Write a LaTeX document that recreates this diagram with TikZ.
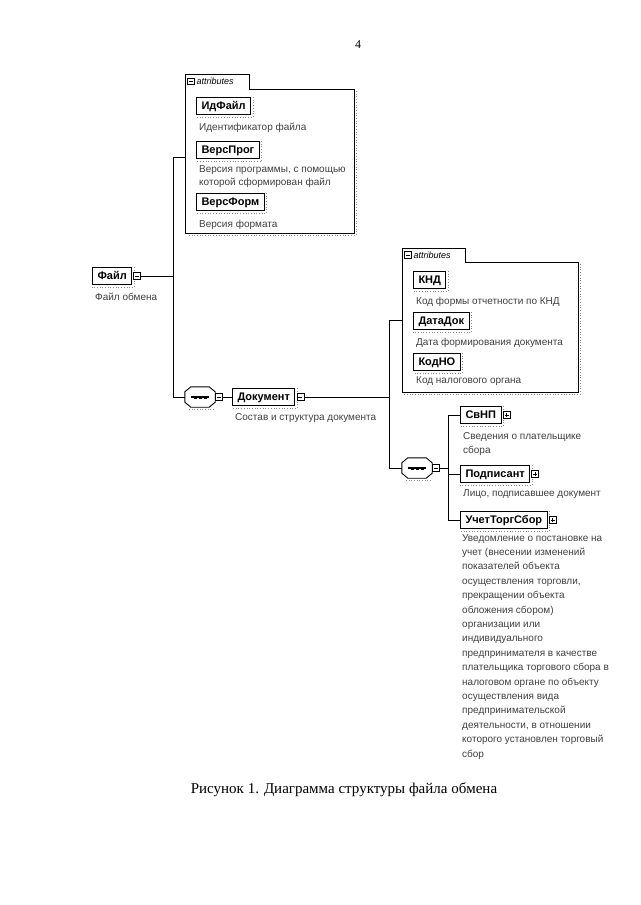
\documentclass[tikz,border=0pt]{standalone}
\usepackage{fontspec}
\setmainfont{Liberation Serif}
\newfontfamily\diafont{Liberation Sans}
\tikzset{
  conn/.style={line width=0.8pt, black},
  el/.style={draw, line width=1pt, font=\diafont\bfseries\fontsize{11}{12}\selectfont,
    inner xsep=5pt, inner ysep=0pt, text height=8.5pt, text depth=2.5pt, minimum height=17pt, anchor=west, fill=white},
  desc/.style={font=\diafont\fontsize{10}{11}\selectfont, text=black!75, anchor=west, inner sep=0pt},
  iconminus/.style={draw, line width=0.6pt, minimum size=7pt, inner sep=0pt, fill=white,
    path picture={\draw[line width=0.6pt] ([xshift=1.5pt]path picture bounding box.west) -- ([xshift=-1.5pt]path picture bounding box.east);}},
  iconplus/.style={iconminus,
    path picture={\draw[line width=0.6pt] ([xshift=1.5pt]path picture bounding box.west) -- ([xshift=-1.5pt]path picture bounding box.east);
      \draw[line width=0.6pt] ([yshift=1.5pt]path picture bounding box.south) -- ([yshift=-1.5pt]path picture bounding box.north);}},
  seq/.style={minimum width=30pt, minimum height=20pt, inner sep=0pt},
  attbox/.style={draw, line width=0.8pt},
  shadowline/.style={black!45, dotted, line width=0.7pt},
  tabtext/.style={font=\diafont\itshape\fontsize{9}{10}\selectfont, anchor=west, inner sep=0pt},
}
\newcommand\elshadow[1]{\draw[shadowline] ([xshift=2pt]#1.north east) -- ([xshift=2pt,yshift=-2pt]#1.south east) -- ([yshift=-2pt]#1.south west);}
\newcommand\seqshape[1]{%
  \draw[line width=0.9pt, fill=white] ([xshift=6pt]#1.north west) -- ([xshift=-6pt]#1.north east)
    -- ([yshift=-5pt]#1.north east) -- ([yshift=5pt]#1.south east) -- ([xshift=-6pt]#1.south east)
    -- ([xshift=6pt]#1.south west) -- ([yshift=5pt]#1.south west) -- ([yshift=-5pt]#1.north west) -- cycle;
  \draw[shadowline] ([xshift=4pt,yshift=-2pt]#1.south west) -- ([xshift=-2pt,yshift=-2pt]#1.south east);
  \draw[line width=1.2pt] ([xshift=-9pt]#1.center) -- ([xshift=9pt]#1.center);
  \foreach \dx in {-5,0,5}{\fill ([xshift=\dx pt]#1.center) +(-1.5pt,-1.5pt) rectangle +(1.5pt,1.5pt);}}
\begin{document}
\begin{tikzpicture}[x=1pt,y=-1pt]
\useasboundingbox[fill=white] (0,0) rectangle (640,905);

% page number
\node[font=\fontsize{12}{14}\selectfont] (pnum) at (358,45) {4};

% ---------- attributes box 1 ----------
\draw[attbox] (185,233) -- (185,74) -- (249,74) -- (249,89) -- (354,89) -- (354,233) -- cycle;
\draw[shadowline] (356,91) -- (356,235) -- (187,235);
\node[iconminus, minimum size=6.5pt] (tab1I) at (191,81.5) {};
\node[tabtext] (tab1) at (196.5,81.5) {attributes};
\coordinate (att1W) at (185,157);

\node[el] (idf) at (196,106) {ИдФайл};
\elshadow{idf}
\node[desc] (idfD) at (199,128) {Идентификатор файла};
\node[el] (vprog) at (196,150) {ВерсПрог};
\elshadow{vprog}
\node[desc] (vprogD1) at (199,170) {Версия программы, с помощью};
\node[desc] (vprogD2) at (199,183) {которой сформирован файл};
\node[el] (vform) at (196,202) {ВерсФорм};
\elshadow{vform}
\node[desc] (vformD) at (199,225) {Версия формата};

% ---------- root element ----------
\node[el] (fayl) at (92,276) {Файл};
\elshadow{fayl}
\node[iconminus] (faylI) at ([xshift=5pt]fayl.east) {};
\node[desc] (faylD) at (95,297) {Файл обмена};

% spine 1
\coordinate (s1top) at (173,157);
\coordinate (s1bot) at (173,397);
\draw[conn] (att1W) -- (s1top) -- (s1bot);
\draw[conn] (faylI.east) -- (faylI.east -| s1top);

% sequence 1
\node[seq] (seq1) at (200,397) {};
\seqshape{seq1}
\node[iconminus] (seq1I) at (219,397) {};
\draw[conn] (s1bot) -- (seq1.west);

% Документ
\node[el] (dok) at (232,397) {Документ};
\elshadow{dok}
\node[iconminus] (dokI) at ([xshift=5pt]dok.east) {};
\node[desc] (dokD) at (235,418) {Состав и структура документа};
\draw[conn] (seq1I.east) -- (dok.west);

% ---------- attributes box 2 ----------
\draw[attbox] (402,392) -- (402,248) -- (465,248) -- (465,262) -- (578,262) -- (578,392) -- cycle;
\draw[shadowline] (580,264) -- (580,394) -- (404,394);
\node[iconminus, minimum size=6.5pt] (tab2I) at (408,255) {};
\node[tabtext] (tab2) at (413.5,255) {attributes};
\coordinate (att2W) at (402,320);

\node[el] (knd) at (413,280) {КНД};
\elshadow{knd}
\node[desc] (kndD) at (416,302) {Код формы отчетности по КНД};
\node[el] (datadok) at (413,321) {ДатаДок};
\elshadow{datadok}
\node[desc] (datadokD) at (416,343) {Дата формирования документа};
\node[el] (kodno) at (413,362) {КодНО};
\elshadow{kodno}
\node[desc] (kodnoD) at (416,381) {Код налогового органа};

% spine 2
\coordinate (s2top) at (389,320);
\coordinate (s2bot) at (389,468);
\draw[conn] (dokI.east) -- (dokI.east -| s2top);
\draw[conn] (att2W) -- (s2top) -- (s2bot);

% sequence 2
\node[seq] (seq2) at (417,468) {};
\seqshape{seq2}
\node[iconminus] (seq2I) at (436,468) {};
\draw[conn] (s2bot) -- (seq2.west);

% spine 3
\coordinate (s3top) at (448,415);
\coordinate (s3bot) at (448,520);

\node[el] (svnp) at (460,415) {СвНП};
\elshadow{svnp}
\node[iconplus] (svnpI) at ([xshift=5pt]svnp.east) {};
\node[desc] (svnpD1) at (463,437) {Сведения о плательщике};
\node[desc] (svnpD2) at (463,451) {сбора};

\node[el] (podp) at (460,474) {Подписант};
\elshadow{podp}
\node[iconplus] (podpI) at ([xshift=5pt]podp.east) {};
\node[desc] (podpD) at (463,494) {Лицо, подписавшее документ};

\node[el] (uchet) at (460,520) {УчетТоргСбор};
\elshadow{uchet}
\node[iconplus] (uchetI) at ([xshift=5pt]uchet.east) {};
\node[desc, anchor=north west, align=left, font=\diafont\fontsize{10}{14.4}\selectfont] (uchetD) at (462,534) {Уведомление о постановке на\\учет (внесении изменений\\показателей объекта\\осуществления торговли,\\прекращении объекта\\обложения сбором)\\организации или\\индивидуального\\предпринимателя в качестве\\плательщика торгового сбора в\\налоговом органе по объекту\\осуществления вида\\предпринимательской\\деятельности, в отношении\\которого установлен торговый\\сбор};

\draw[conn] (svnp.west) -- (s3top) -- (s3bot) -- (uchet.west);
\draw[conn] (podp.west) -- (podp.west -| s3top);
\draw[conn] (seq2I.east) -- (seq2I.east -| s3top);

% caption
\node[font=\fontsize{15}{17}\selectfont] (cap) at (344,790) {Рисунок 1. Диаграмма структуры файла обмена};
\end{tikzpicture}
\end{document}
